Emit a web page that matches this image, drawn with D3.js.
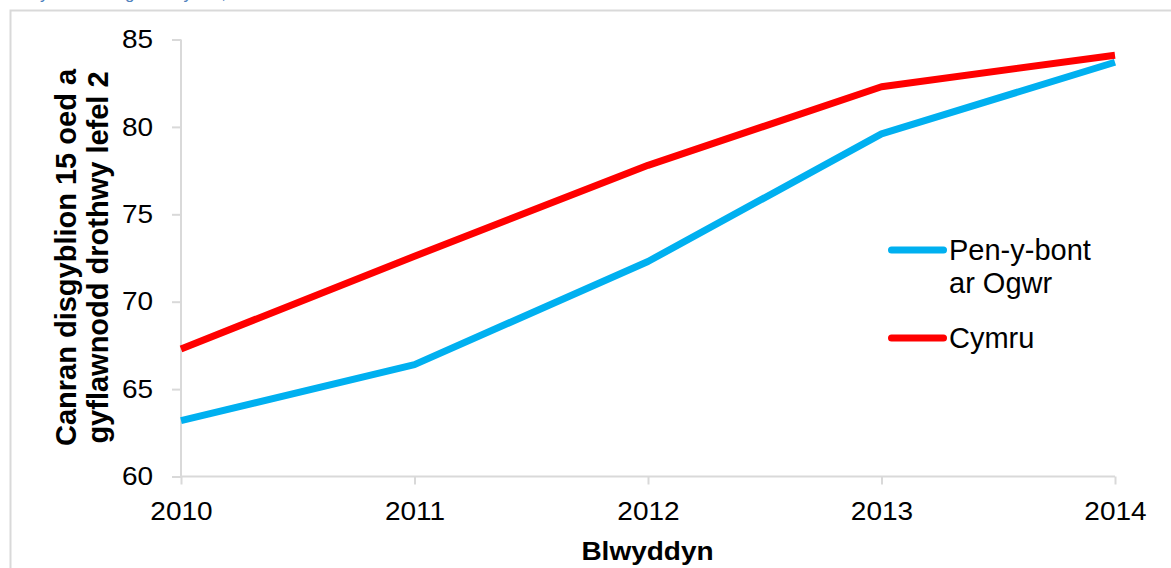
<!DOCTYPE html>
<html><head><meta charset="utf-8">
<script src="https://cdn.jsdelivr.net/npm/d3@7"></script>
<style>body{margin:0;background:#fff;}svg{display:block;font-family:"Liberation Sans",Arial,sans-serif;}</style>
</head><body>
<svg id="c" width="1171" height="568"></svg>
<script>
const years = [2010, 2011, 2012, 2013, 2014];
const penybont = [63.2, 66.4, 72.3, 79.6, 83.7];
const cymru = [67.3, 72.6, 77.8, 82.3, 84.1];
const yTicks = [60, 65, 70, 75, 80, 85];
const seriesNames = ["Pen-y-bont ar Ogwr", "Cymru"];
const seriesColors = ["#00b0f0", "#ff0000"];

const svg = d3.select("#c");
// frame
svg.append("rect").attr("x",10.5).attr("y",10.5).attr("width",1170).attr("height",600)
  .attr("fill","#fff").attr("stroke","#d9d9d9").attr("stroke-width",2);
// cut-off title
svg.append("text").attr("x",4).attr("y",-1).attr("fill","#4f81bd").attr("font-size",17)
  .text("Pen-y-bont ar Ogwr a Cymru, 2010-2014");

const x = d3.scaleLinear().domain([2010,2014]).range([181,1115]);
const y = d3.scaleLinear().domain([60,85]).range([476.5,39.5]);
const sx = 1.12;

const yAxis = svg.append("g").attr("transform","translate(181,0)")
  .call(d3.axisLeft(y).tickValues(yTicks).tickSize(9).tickFormat(d3.format("d")));
const xAxis = svg.append("g").attr("transform","translate(0,476.5)")
  .call(d3.axisBottom(x).tickValues(years).tickSize(8).tickFormat(d3.format("d")));
[yAxis,xAxis].forEach(g=>{
  g.selectAll("path,line").attr("stroke","#d9d9d9").attr("stroke-width",2);
  g.selectAll("text").attr("fill","#000").attr("font-size",25)
    .attr("font-family","Liberation Sans, Arial, sans-serif")
    .attr("transform",`scale(${sx},1)`);
});
yAxis.selectAll("text").attr("x",-28/sx).attr("dy",null).attr("y",8.2);
xAxis.selectAll("text").attr("dy",null).attr("y",43.5);
yAxis.select(".domain").attr("d","M0,39.5V476.5");
xAxis.select(".domain").attr("d","M181,0H1115");

const line = d3.line().x((d,i)=>x(years[i])).y(d=>y(d));
[penybont, cymru].forEach((s,i)=>{
  svg.append("path").attr("d",line(s)).attr("fill","none").attr("stroke",seriesColors[i])
    .attr("stroke-width",7).attr("stroke-linejoin","round").attr("stroke-linecap","butt");
});

// axis titles
svg.append("text").attr("transform",`translate(647.5,560) scale(${sx},1)`).attr("text-anchor","middle")
  .attr("font-size",25).attr("font-weight","bold").text("Blwyddyn");
const yt = svg.append("text").attr("transform","translate(0,257.5) rotate(-90)")
  .attr("text-anchor","middle").attr("font-size",29).attr("font-weight","bold");
yt.append("tspan").attr("x",0).attr("y",76).text("Canran disgyblion 15 oed a");
yt.append("tspan").attr("x",0).attr("y",108).text("gyflawnodd drothwy lefel 2");

// legend
const leg = svg.append("g");
const legY = [250, 338];
const legLines = [["Pen-y-bont","ar Ogwr"],["Cymru"]];
legY.forEach((ly,i)=>{
  leg.append("line").attr("x1",891.5).attr("x2",943.5).attr("y1",ly).attr("y2",ly)
    .attr("stroke",seriesColors[i]).attr("stroke-width",7).attr("stroke-linecap","round");
  legLines[i].forEach((t,j)=>{
    leg.append("text").attr("x",949).attr("y",ly+10+j*33).attr("font-size",29).text(t);
  });
});
</script>
</body></html>
